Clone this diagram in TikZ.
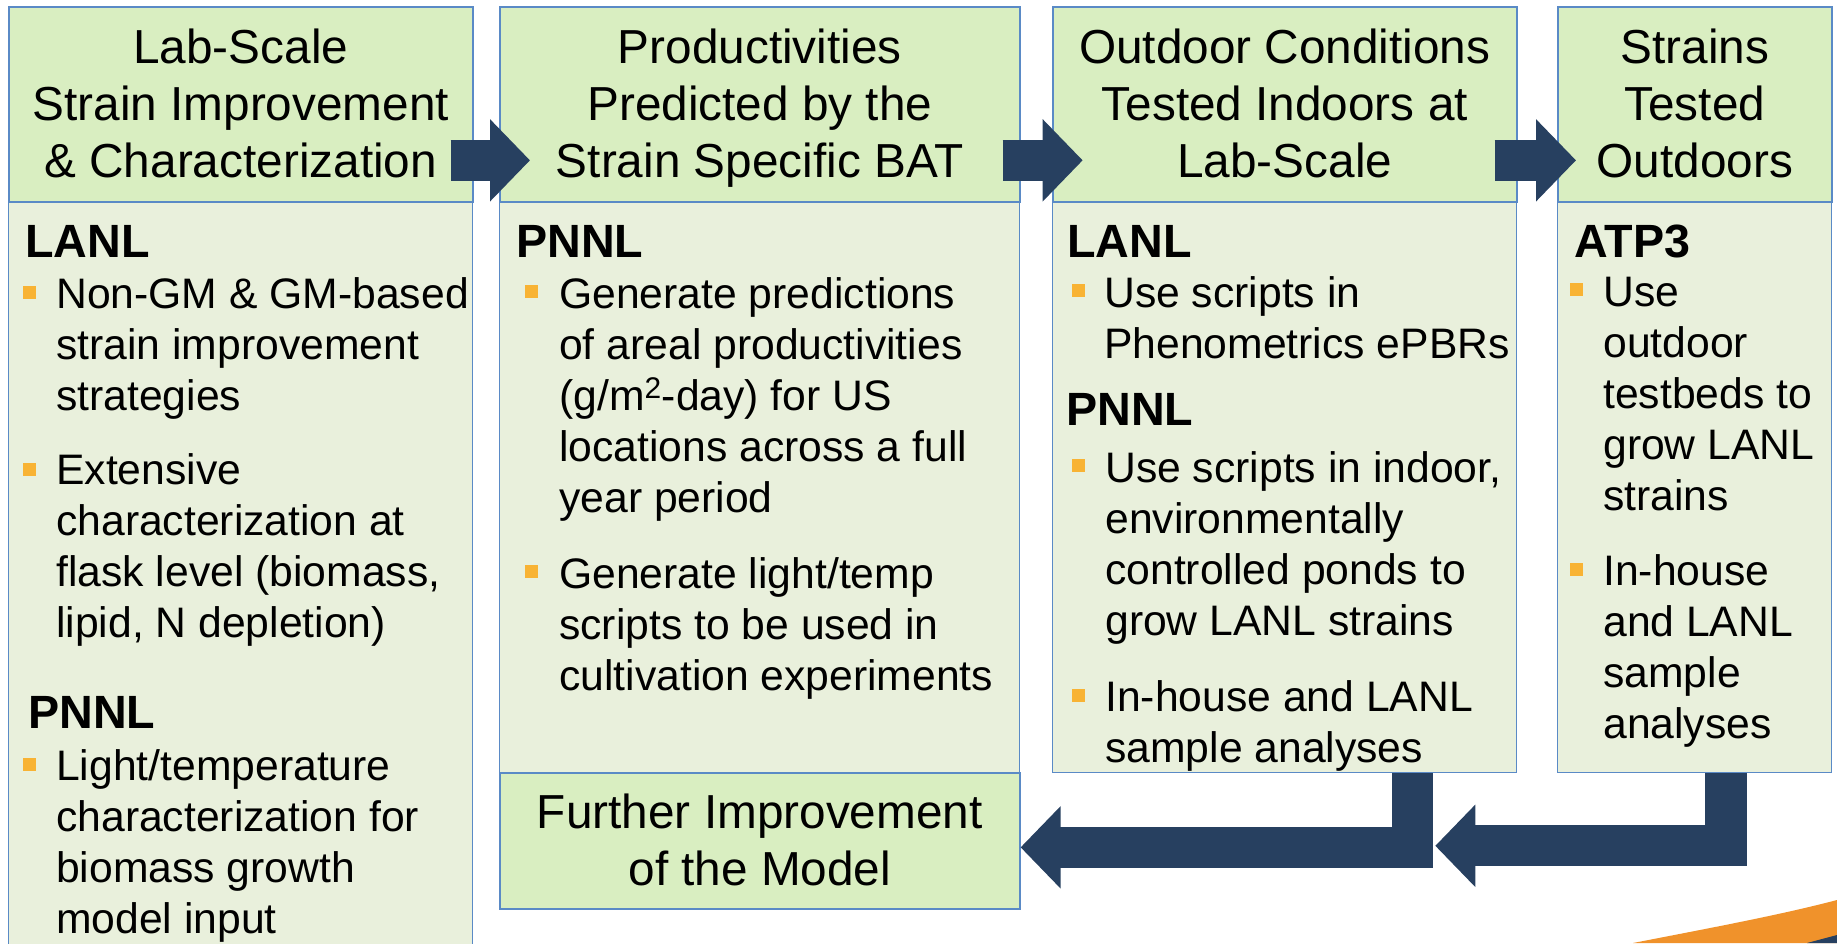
\documentclass[tikz,border=0pt]{standalone}
\usepackage{fontspec}
\setmainfont{Liberation Sans}
\usetikzlibrary{positioning}
\usetikzlibrary{arrows.meta}
\definecolor{headgreen}{HTML}{D9EEC1}
\definecolor{bodygreen}{HTML}{E9F0DC}
\definecolor{edgeblue}{HTML}{5A8AC6}
\definecolor{arrownavy}{HTML}{274060}
\definecolor{bulletgold}{HTML}{F8B334}
\definecolor{swooshorange}{HTML}{F0922B}
\tikzset{
 headbox/.style={draw=edgeblue,line width=1.2pt,fill=headgreen,anchor=north west,inner sep=0pt,
   align=center,minimum height=146.25pt,font=\fontsize{35.8}{43}\selectfont,
   execute at end node={\rule[-1.6pt]{0pt}{1.6pt}}},
 bodybox/.style={draw=edgeblue,line width=0.8pt,fill=bodygreen,anchor=north west,inner sep=0pt,minimum height=428.25pt},
 orghead/.style={anchor=north west,inner sep=0pt,align=left,font=\fontsize{35}{38.6}\selectfont\bfseries,execute at begin node=\strut},
 bodytext/.style={anchor=north west,inner sep=0pt,align=left,font=\fontsize{32}{38.3}\selectfont,execute at begin node=\strut},
 squarebullet/.style={fill=bulletgold,inner sep=0pt,minimum size=9.75pt},
 blockarrow/.style={draw=arrownavy,line width=31pt,-{Triangle[length=30pt,width=60pt,sep=0pt]}}
}
\begin{document}
\begin{tikzpicture}[x=0.75pt,y=-0.75pt]
 \useasboundingbox (0,0) rectangle (1837,943);
 % body panels
 \node[bodybox,minimum width=348pt,minimum height=560pt] (bodyA) at (8,201) {};
 \node[bodybox,minimum width=390pt] (bodyB) at (499,201) {};
 \node[bodybox,minimum width=348pt] (bodyC) at (1052,201) {};
 \node[bodybox,minimum width=205.5pt] (bodyD) at (1557,201) {};
 % title panels
 \node[headbox,minimum width=348pt] (headA) at (8,6) {Lab-Scale\\Strain Improvement\\\& Characterization};
 \node[headbox,minimum width=390pt] (headB) at (499,6) {Productivities\\Predicted by the\\\smash{Strain Specific BAT}};
 \node[headbox,minimum width=348pt] (headC) at (1052,6) {Outdoor Conditions\\Tested Indoors at\\Lab-Scale};
 \node[headbox,minimum width=205.5pt] (headD) at (1557,6) {Strains\\Tested\\Outdoors};
 \node[headbox,minimum width=390pt,minimum height=102pt] (further) at (499,772) {Further Improvement\\of the Model};
 % first column
 \node[orghead] (orgA1) at (25,221) {LANL};
 \node[squarebullet] (dotA1) at (29,292) {};
 \node[bodytext] (txtA1) at (56,277) {Non-GM \& GM-based\\strain improvement\\strategies};
 \node[squarebullet] (dotA2) at (29,469) {};
 \node[bodytext] (txtA2) at (56,453) {Extensive\\characterization at\\flask level (biomass,\\lipid, N depletion)};
 \node[orghead] (orgA2) at (28,692) {PNNL};
 \node[squarebullet] (dotA3) at (29,764) {};
 \node[bodytext] (txtA3) at (56,749.5) {Light/temperature\\characterization for\\biomass growth\\model input};
 % second column
 \node[orghead] (orgB1) at (516,221) {PNNL};
 \node[squarebullet] (dotB1) at (531,291) {};
 \node[bodytext] (txtB1) at (559,277) {Generate predictions\\of areal productivities\\(g/m\textsuperscript{2}-day) for US\\locations across a full\\year period};
 \node[squarebullet] (dotB2) at (531,571) {};
 \node[bodytext] (txtB2) at (559,557) {Generate light/temp\\scripts to be used in\\cultivation experiments};
 % third column
 \node[orghead] (orgC1) at (1067,221) {LANL};
 \node[squarebullet] (dotC1) at (1078,290) {};
 \node[bodytext] (txtC1) at (1104,276) {Use scripts in\\Phenometrics ePBRs};
 \node[orghead] (orgC2) at (1066,389.5) {PNNL};
 \node[squarebullet] (dotC2) at (1078,465) {};
 \node[bodytext] (txtC2) at (1105,451.5) {Use scripts in indoor,\\environmentally\\controlled ponds to\\grow LANL strains};
 \node[squarebullet] (dotC3) at (1078,695) {};
 \node[bodytext] (txtC3) at (1105,680) {In-house and LANL\\sample analyses};
 % fourth column
 \node[orghead] (orgD1) at (1574,221) {ATP3};
 \node[squarebullet] (dotD1) at (1576,289) {};
 \node[bodytext] (txtD1) at (1603,277) {Use\\outdoor\\testbeds to\\grow LANL\\strains};
 \node[squarebullet] (dotD2) at (1576,569) {};
 \node[bodytext] (txtD2) at (1603,554.5) {In-house\\and LANL\\sample\\analyses};
 % arrows
 \draw[blockarrow] ([xshift=-17.25pt,yshift=31.7pt]headA.south east) -- ([xshift=23.25pt,yshift=31.7pt]headB.south west);
 \draw[blockarrow] ([xshift=-13.5pt,yshift=31.7pt]headB.south east) -- ([xshift=23pt,yshift=31.7pt]headC.south west);
 \draw[blockarrow] ([xshift=-17.25pt,yshift=31.7pt]headC.south east) -- ([xshift=14.25pt,yshift=31.7pt]headD.south west);
 \coordinate (mergeC) at ([xshift=311pt,yshift=-3.75pt]further.east);
 \draw[blockarrow] ([xshift=96pt]bodyC.south) |- ([yshift=-4.9pt]further.east);
 \draw[blockarrow] ([xshift=23.7pt]bodyD.south) |- (mergeC);
 % corner swoosh
 \fill[swooshorange] (1633,943) .. controls (1710,928) and (1780,915) .. (1837,900) -- (1837,943) -- cycle;
 \fill[arrownavy] (1807,943) -- (1837,935) -- (1837,943) -- cycle;
\end{tikzpicture}
\end{document}
